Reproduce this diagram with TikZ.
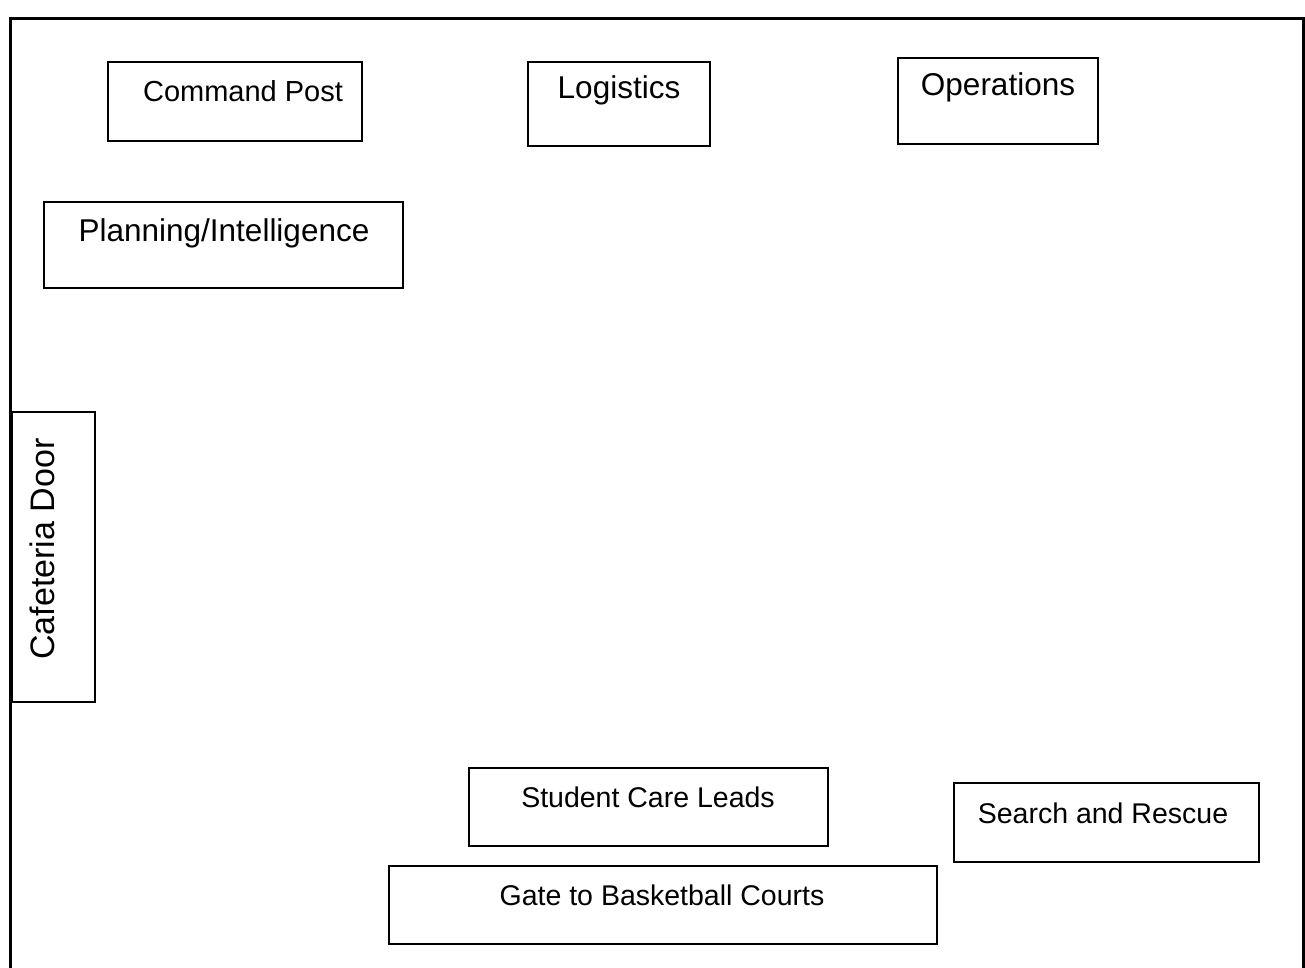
\documentclass[tikz,border=0pt]{standalone}
\usepackage{fontspec}
\setmainfont{Liberation Sans}
\begin{document}
\begin{tikzpicture}[x=1pt,y=-1pt,
  box/.style={draw=black,line width=1.4pt},
  lbl/.style={inner sep=0pt,anchor=center}]
\useasboundingbox (0,0) rectangle (1305,968);
% outer frame
\draw[line width=3pt] (10,990) -- (10,19) -- (1303,19) -- (1303,990);
% boxes
\draw[box] (108,62) rectangle (362,141);
\node[lbl,font=\fontsize{29}{30}\selectfont] (cp) at (243,91) {Command Post};
\draw[box] (528,62) rectangle (710,146);
\node[lbl,font=\fontsize{31.5}{33}\selectfont] (lg) at (619,90) {Logistics};
\draw[box] (898,58) rectangle (1098,144);
\node[lbl,font=\fontsize{31.5}{33}\selectfont] (op) at (998,87) {Operations};
\draw[box] (44,202) rectangle (403,288);
\node[lbl,font=\fontsize{31.5}{33}\selectfont] (pi) at (224,233) {Planning/Intelligence};
\draw[box] (12,412) rectangle (95,702);
\node[lbl,font=\fontsize{34}{36}\selectfont,rotate=90] (cd) at (42,549) {Cafeteria Door};
\draw[box] (469,768) rectangle (828,846);
\node[lbl,font=\fontsize{28.5}{30}\selectfont] (sc) at (648,797) {Student Care Leads};
\draw[box] (954,783) rectangle (1259,862);
\node[lbl,font=\fontsize{28.5}{30}\selectfont] (sr) at (1103,813) {Search and Rescue};
\draw[box] (389,866) rectangle (937,944);
\node[lbl,font=\fontsize{28.5}{30}\selectfont] (gt) at (662,895) {Gate to Basketball Courts};
\end{tikzpicture}
\end{document}
